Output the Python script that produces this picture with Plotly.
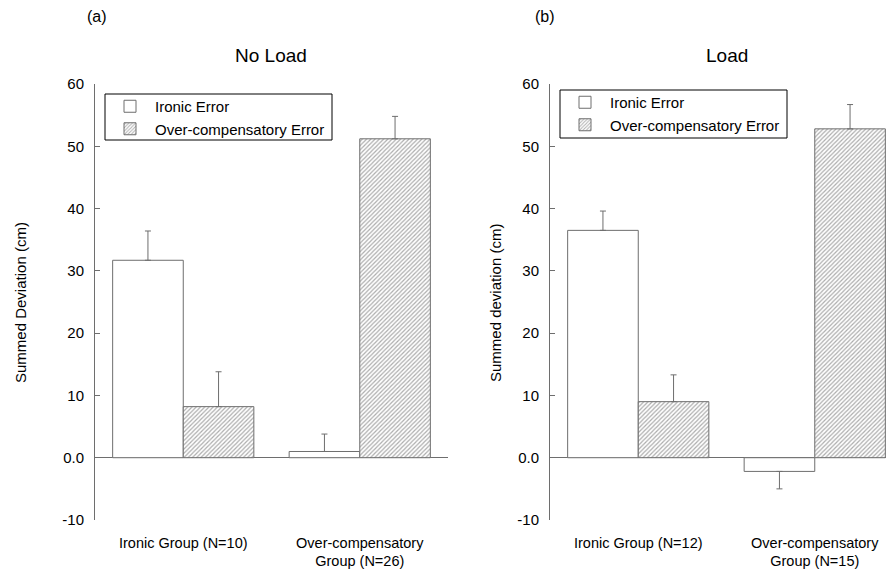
import plotly.graph_objects as go

groups_a = ["Ironic Group (N=10)", "Over-compensatory<br>Group (N=26)"]
groups_b = ["Ironic Group (N=12)", "Over-compensatory<br>Group (N=15)"]
series = ["Ironic Error", "Over-compensatory Error"]

# Panel (a) No Load
a_ironic = [31.7, 1.0]
a_ironic_err = [4.7, 2.8]
a_over = [8.2, 51.2]
a_over_err = [5.6, 3.6]

# Panel (b) Load
b_ironic = [36.5, -2.2]
b_ironic_err = [3.1, 2.8]
b_over = [9.0, 52.8]
b_over_err = [4.3, 3.9]

yticks = [-10, 0, 10, 20, 30, 40, 50, 60]
yticktext = ["-10", "0.0", "10", "20", "30", "40", "50", "60"]

GRAY = "#6e6e6e"
FONT = "Liberation Sans, Arial, sans-serif"

OFF = 8  # page body margin
W, H = 894 - OFF, 571 - OFF
T, B = 84 - OFF, 51
PH = H - T - B


def px(p):
    return (p - OFF) / W


def py(p):
    return (H - B - (p - OFF)) / PH


fig = go.Figure()


def err(vals, e):
    plus = [x if v >= 0 else 0 for v, x in zip(vals, e)]
    minus = [x if v < 0 else 0 for v, x in zip(vals, e)]
    return dict(type="data", array=plus, arrayminus=minus, symmetric=False,
                color=GRAY, thickness=1, width=3)


def add_panel(cats, iron, iron_e, over, over_e, xa, ya, leg):
    xs = list(range(len(cats)))
    fig.add_trace(go.Bar(
        x=xs, y=iron, name=series[0], xaxis=xa, yaxis=ya, legend=leg,
        marker=dict(color="white", line=dict(color=GRAY, width=1)),
        error_y=err(iron, iron_e), offsetgroup="1"))
    fig.add_trace(go.Bar(
        x=xs, y=over, name=series[1], xaxis=xa, yaxis=ya, legend=leg,
        marker=dict(color="white", line=dict(color=GRAY, width=1),
                    pattern=dict(shape="/", fgcolor="#5a5a5a", bgcolor="white",
                                 size=3, solidity=0.4)),
        error_y=err(over, over_e), offsetgroup="2"))


add_panel(groups_a, a_ironic, a_ironic_err, a_over, a_over_err, "x", "y", "legend")
add_panel(groups_b, b_ironic, b_ironic_err, b_over, b_over_err, "x2", "y2", "legend2")

yaxis_common = dict(range=[-10, 60], tickvals=yticks, ticktext=yticktext,
                    showline=True, linecolor=GRAY, linewidth=1, ticks="inside",
                    ticklen=5, tickcolor=GRAY, showgrid=False, zeroline=True,
                    zerolinecolor=GRAY, zerolinewidth=1, ticklabelstandoff=7,
                    tickfont=dict(size=15, color="black", family=FONT))
xaxis_common = dict(showline=False, ticks="", showgrid=False, zeroline=False,
                    tickfont=dict(size=14.5, color="black", family=FONT),
                    tickvals=[0, 1], ticklabelstandoff=12)

legend_common = dict(xanchor="left", yanchor="top", borderwidth=0,
                     bgcolor="rgba(0,0,0,0)", itemwidth=40,
                     font=dict(size=15, family=FONT), tracegroupgap=0)

fig.update_layout(
    width=W, height=H,
    margin=dict(l=0, r=0, t=T, b=B),
    paper_bgcolor="white", plot_bgcolor="white",
    font=dict(family=FONT, color="black"),
    barmode="group", bargap=0.2, bargroupgap=0,
    xaxis=dict(domain=[px(95), px(448)], range=[-0.5, 1.5], ticktext=groups_a, **xaxis_common),
    yaxis=dict(anchor="x", **yaxis_common),
    xaxis2=dict(domain=[px(550), 1.0], range=[-0.5, 1.449], ticktext=groups_b, **xaxis_common),
    yaxis2=dict(anchor="x2", **yaxis_common),
    legend=dict(x=px(105), y=py(90), **legend_common),
    legend2=dict(x=px(560), y=py(86), **legend_common),
    showlegend=True,
)

# legend frames
for (x0, x1, y0, y1) in [(105, 332, 94, 140), (560, 787, 90, 138)]:
    fig.add_shape(type="rect", xref="paper", yref="paper",
                  x0=px(x0), x1=px(x1), y0=py(y1), y1=py(y0),
                  line=dict(color="black", width=1), fillcolor="white", layer="above")

annots = [
    dict(text="(a)", x=px(97), y=py(17), font=dict(size=16, family=FONT)),
    dict(text="(b)", x=px(545), y=py(17), font=dict(size=16, family=FONT)),
    dict(text="No Load", x=px(271), y=py(55), font=dict(size=19, family=FONT)),
    dict(text="Load", x=px(727), y=py(55), font=dict(size=19, family=FONT)),
    dict(text="Summed Deviation (cm)", x=px(20), y=py(303), textangle=-90),
    dict(text="Summed deviation (cm)", x=px(495), y=py(303), textangle=-90),
]
for a in annots:
    fig.add_annotation(xref="paper", yref="paper", showarrow=False,
                       xanchor="center", yanchor="middle",
                       font=a.pop("font", dict(size=15, family=FONT)), **a)

fig.write_html("out.html")
